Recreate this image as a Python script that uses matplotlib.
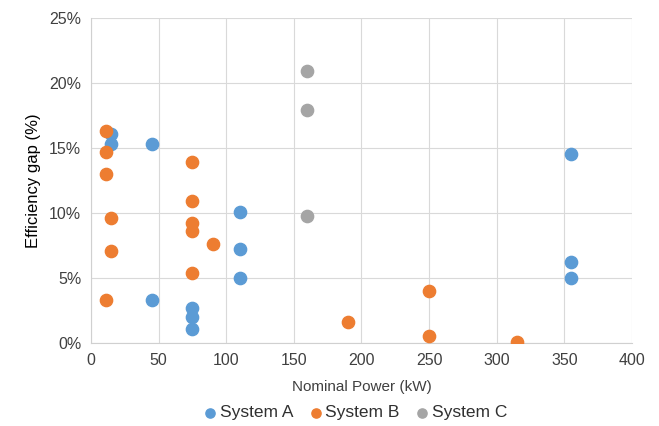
import matplotlib
matplotlib.use('Agg')
import matplotlib.pyplot as plt
from matplotlib.ticker import PercentFormatter

plt.rcParams['font.family'] = ['Liberation Sans', 'DejaVu Sans']

# System A
powerA = [15, 15, 45, 110, 110, 110, 45, 75, 75, 75, 355, 355, 355]
gapA = [16.1, 15.3, 15.3, 10.1, 7.2, 5.0, 3.3, 2.7, 2.0, 1.1, 14.5, 6.2, 5.0]
# System B
powerB = [11, 11, 11, 15, 15, 11, 75, 75, 75, 75, 90, 75, 190, 250, 250, 315]
gapB = [16.3, 14.7, 13.0, 9.6, 7.1, 3.3, 13.9, 10.9, 9.2, 8.6, 7.6, 5.4, 1.6, 4.0, 0.5, 0.1]
# System C
powerC = [160, 160, 160]
gapC = [20.9, 17.9, 9.8]

fig = plt.figure(figsize=(6.59, 4.26), dpi=100)
ax = fig.add_axes([0.138, 0.195, 0.821, 0.763])

ax.scatter(powerA, gapA, s=78, color='#5B9BD5', label='System A', zorder=3)
ax.scatter(powerB, gapB, s=78, color='#ED7D31', label='System B', zorder=3)
ax.scatter(powerC, gapC, s=78, color='#A5A5A5', label='System C', zorder=3)

ax.set_xlim(0, 400)
ax.set_ylim(0, 25)
ax.set_xticks(range(0, 401, 50))
ax.set_yticks(range(0, 26, 5))
ax.yaxis.set_major_formatter(PercentFormatter(decimals=0))
ax.grid(True, color='#D9D9D9', linewidth=0.8, zorder=0)
ax.set_axisbelow(True)
for side in ['top', 'right']:
    ax.spines[side].set_visible(False)
for side in ['left', 'bottom']:
    ax.spines[side].set_color('#D0D0D0')
ax.tick_params(length=0, labelsize=11.5, labelcolor='#404040', pad=7)

ax.set_xlabel('Nominal Power (kW)', fontsize=11, color='#404040', labelpad=9)
ax.set_ylabel('Efficiency gap (%)', fontsize=12, color='#000000', labelpad=6)

ax.legend(loc='center', bbox_to_anchor=(0.49, -0.215), ncol=3, frameon=False,
          fontsize=12.5, handlelength=0.6, handletextpad=0.25, columnspacing=1.0,
          markerscale=0.75, labelcolor='#303030')

fig.savefig('out.png', dpi=100)
